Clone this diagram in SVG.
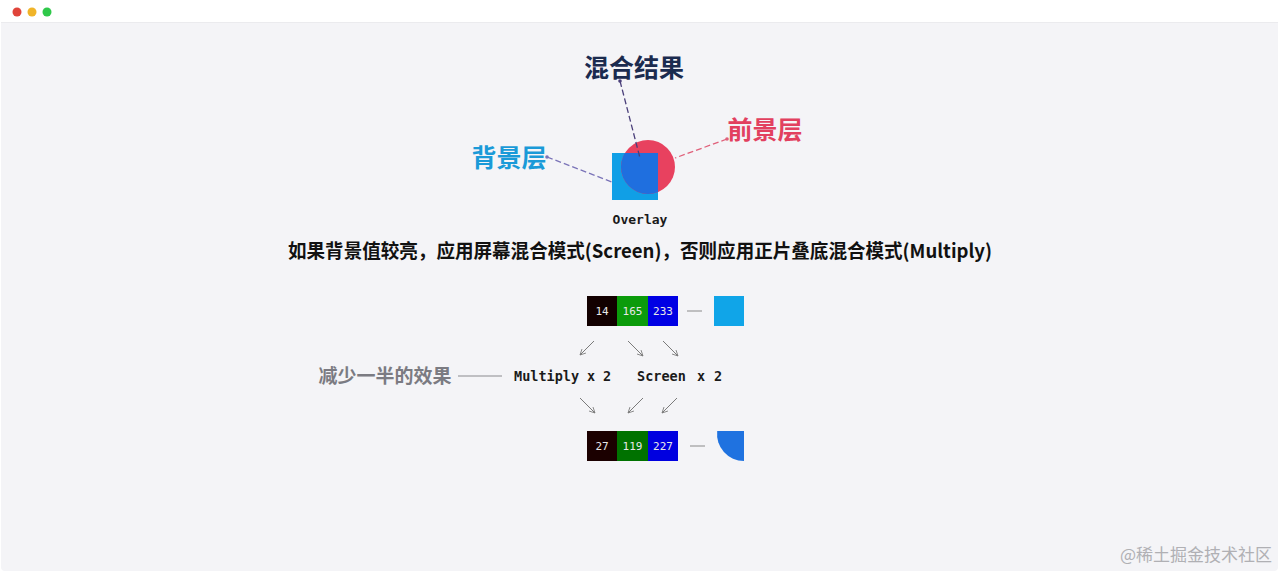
<svg xmlns="http://www.w3.org/2000/svg" width="1280" height="573" viewBox="0 0 1280 573">
<defs>
<style>
.mono{font-family:"DejaVu Sans Mono","Liberation Mono",monospace;font-weight:bold;}
.cell{font-family:"DejaVu Sans Mono","Liberation Mono",monospace;font-size:11px;fill:#e8e8e8;text-anchor:middle;}
.cjk{font-family:"Noto Sans CJK SC","Noto Sans",sans-serif;font-weight:bold;}
.arr{stroke:#7a7a7a;stroke-width:1;fill:none;marker-end:url(#ah);}
.dash{stroke-width:1.3;stroke-dasharray:6 3;fill:none;}
</style>
<marker id="ah" viewBox="0 0 10 10" refX="9" refY="5" markerWidth="7" markerHeight="7" orient="auto" markerUnits="userSpaceOnUse">
<path d="M1,1 L9,5 L1,9" fill="none" stroke="#7a7a7a" stroke-width="1.2"/>
</marker>
</defs>
<rect width="1280" height="573" fill="#ffffff"/>
<rect x="1" y="0" width="1277" height="571" rx="4" fill="#f4f4f7"/>
<rect x="1" y="0" width="1277" height="22" fill="#ffffff"/>
<line x1="1" y1="22.5" x2="1278" y2="22.5" stroke="#ebebee" stroke-width="1"/>
<g id="window-dots">
<circle cx="17" cy="12" r="4.5" fill="#e0443a"/>
<circle cx="32" cy="12" r="4.5" fill="#f0b429"/>
<circle cx="47" cy="12" r="4.5" fill="#2fc84a"/>
</g>

<g id="overlay-demo">
<rect x="612" y="153" width="46" height="47" fill="#109fe6"/>
<path d="M658,153 L658,200 L612,200 Z" fill="none"/>
<circle cx="648" cy="167" r="27" fill="#e8415f"/>
<clipPath id="sq"><rect x="612" y="153" width="46" height="47"/></clipPath>
<circle cx="648" cy="167" r="27" fill="#1f6fdf" clip-path="url(#sq)"/>
<text x="640" y="224" class="mono" font-size="13" fill="#1a1a1a" text-anchor="middle">Overlay</text>
</g>

<g id="label-result">
<text x="634" y="77" class="cjk" font-size="25" fill="#1b2b4f" text-anchor="middle">混合结果</text>
</g>
<g id="label-fg">
<text x="765" y="139" class="cjk" font-size="25" fill="#e2405f" text-anchor="middle">前景层</text>
</g>
<g id="label-bg">
<text x="509" y="167" class="cjk" font-size="25" fill="#1a9ad8" text-anchor="middle">背景层</text>
</g>

<g id="connectors">
<line x1="620" y1="81" x2="640" y2="158" class="dash" stroke="#4a3f7a"/>
<circle cx="620" cy="81" r="1.8" fill="#4a3f7a"/>
<line x1="547" y1="157" x2="612" y2="182" class="dash" stroke="#7a73b8"/>
<circle cx="547" cy="157" r="1.8" fill="#7a73b8"/>
<line x1="727" y1="139" x2="675" y2="158" class="dash" stroke="#e0607a"/>
<circle cx="727" cy="139" r="1.8" fill="#e0607a"/>
<line x1="594" y1="341" x2="580" y2="355" class="arr"/>
<line x1="628" y1="341" x2="643" y2="356" class="arr"/>
<line x1="663" y1="341" x2="678" y2="356" class="arr"/>
<line x1="580" y1="398" x2="595" y2="413" class="arr"/>
<line x1="643" y1="398" x2="628" y2="413" class="arr"/>
<line x1="677" y1="398" x2="662" y2="413" class="arr"/>
<line x1="687" y1="311" x2="702" y2="311" stroke="#8a8a8a" stroke-width="1"/>
<line x1="690" y1="446" x2="705" y2="446" stroke="#8a8a8a" stroke-width="1"/>
<line x1="458" y1="376" x2="502" y2="376" stroke="#8a8a8e" stroke-width="1"/>
</g>

<g id="description">
<text x="640" y="258" class="cjk" font-size="19" fill="#111111" text-anchor="middle" textLength="704" lengthAdjust="spacingAndGlyphs">如果背景值较亮，应用屏幕混合模式(Screen)，否则应用正片叠底混合模式(Multiply)</text>
</g>

<g id="row-input">
<rect x="587" y="296" width="30" height="30" fill="#120000"/>
<rect x="617" y="296" width="31" height="30" fill="#0b9b0b"/>
<rect x="648" y="296" width="30" height="30" fill="#0000e4"/>
<text x="602" y="315" class="cell">14</text>
<text x="632.5" y="315" class="cell">165</text>
<text x="663" y="315" class="cell">233</text>
<rect x="714" y="296" width="30" height="30" fill="#10a5e8"/>
</g>

<g id="row-modes">
<text x="514" y="381" class="mono" font-size="13.5" fill="#1a1a1a">Multiply</text>
<text x="587" y="381" class="mono" font-size="13.5" fill="#1a1a1a">x</text>
<text x="603" y="381" class="mono" font-size="13.5" fill="#1a1a1a">2</text>
<text x="637" y="381" class="mono" font-size="13.5" fill="#1a1a1a">Screen</text>
<text x="697" y="381" class="mono" font-size="13.5" fill="#1a1a1a">x</text>
<text x="714" y="381" class="mono" font-size="13.5" fill="#1a1a1a">2</text>
</g>

<g id="label-half">
<text x="385" y="383" class="cjk" font-size="19" fill="#7b7b82" text-anchor="middle">减少一半的效果</text>
</g>

<g id="row-output">
<rect x="587" y="431" width="30" height="30" fill="#1b0000"/>
<rect x="617" y="431" width="31" height="30" fill="#007200"/>
<rect x="648" y="431" width="30" height="30" fill="#0000e0"/>
<text x="602" y="450" class="cell">27</text>
<text x="632.5" y="450" class="cell">119</text>
<text x="663" y="450" class="cell">227</text>
<path d="M744,431 L717.2,431 A27,27 0 0 0 744,461 Z" fill="#1f72e0"/>
</g>

<g id="watermark">
<text x="1272" y="561" font-family="Noto Sans CJK SC, sans-serif" font-size="17" fill="#b0b0b4" text-anchor="end">@稀土掘金技术社区</text>
</g>
</svg>
